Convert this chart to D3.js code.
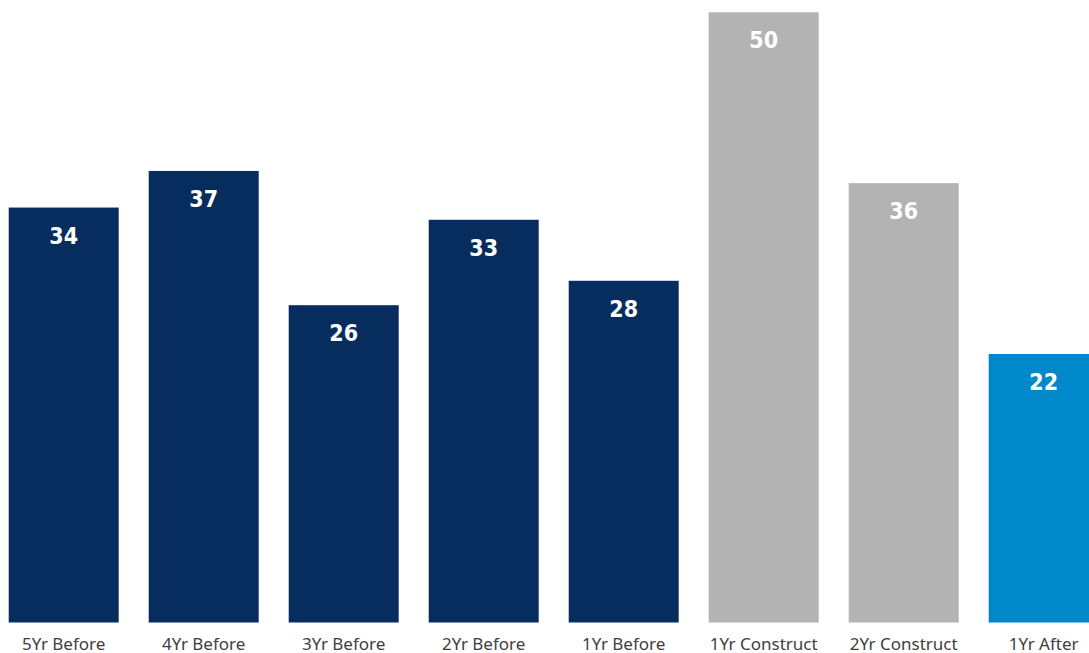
<!DOCTYPE html>
<html>
<head>
<meta charset="utf-8">
<script src="https://cdn.jsdelivr.net/npm/d3@7"></script>
<style>
  html, body { margin: 0; padding: 0; background: #fff; overflow: hidden; }
  svg { display: block; }
</style>
</head>
<body>
<svg id="chart" width="1089" height="653"></svg>
<script>
const categories = ["5Yr Before", "4Yr Before", "3Yr Before", "2Yr Before", "1Yr Before", "1Yr Construct", "2Yr Construct", "1Yr After"];
const values = [34, 37, 26, 33, 28, 50, 36, 22];
const phases = ["before", "before", "before", "before", "before", "construct", "construct", "after"];
const phaseColors = { before: "#062d5e", construct: "#b3b3b3", after: "#0088cb" };

const svg = d3.select("#chart");

const x = d3.scaleBand()
  .domain(categories)
  .range([-6.3, 1113.7])
  .paddingInner(30 / 140)
  .paddingOuter(15 / 140);

const y = d3.scaleLinear().domain([0, 50]).range([622.5, 12.3]);

const data = categories.map((c, i) => ({ cat: c, value: values[i], phase: phases[i] }));

svg.selectAll("rect.bar")
  .data(data)
  .join("rect")
  .attr("class", "bar")
  .attr("x", d => x(d.cat))
  .attr("y", d => y(d.value))
  .attr("width", x.bandwidth())
  .attr("height", d => y(0) - y(d.value))
  .attr("fill", d => phaseColors[d.phase]);

svg.selectAll("text.val")
  .data(data)
  .join("text")
  .attr("class", "val")
  .attr("x", d => x(d.cat) + x.bandwidth() / 2)
  .attr("y", d => y(d.value) + 36)
  .attr("text-anchor", "middle")
  .attr("fill", "#ffffff")
  .attr("font-family", "'DejaVu Sans Condensed', 'DejaVu Sans', sans-serif")
  .attr("font-weight", "bold")
  .attr("font-stretch", "condensed")
  .attr("font-size", "23px")
  .text(d => d.value);

const xAxis = d3.axisBottom(x).tickSize(0).tickPadding(0);
const gx = svg.append("g")
  .attr("transform", `translate(0, ${y(0)})`)
  .call(xAxis);
gx.select(".domain").remove();
gx.selectAll("text")
  .attr("y", 27)
  .attr("dy", 0)
  .attr("fill", "#404040")
  .attr("font-family", "'Noto Sans', 'Open Sans', sans-serif")
  .attr("font-size", "17px");
</script>
</body>
</html>
